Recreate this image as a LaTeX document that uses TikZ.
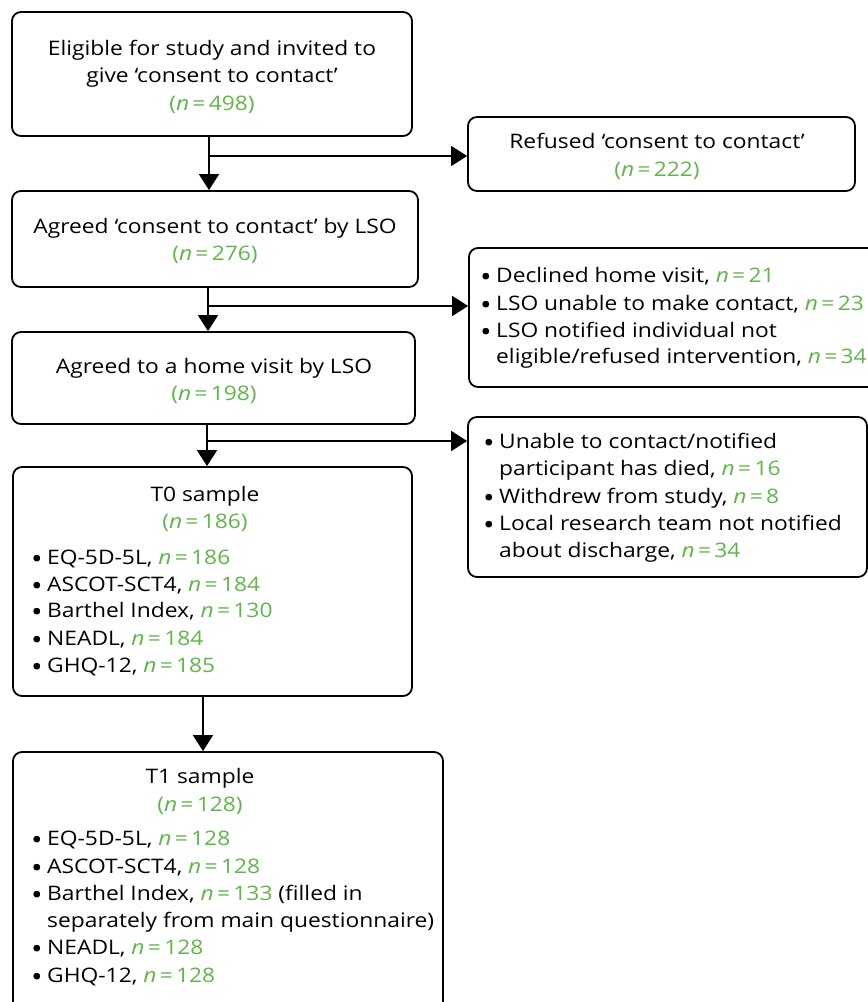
\documentclass[tikz,border=0pt]{standalone}
\usepackage{fontspec}
\setmainfont[FakeStretch=1.14]{Open Sans}
\usetikzlibrary{arrows.meta}
\definecolor{ngreen}{RGB}{96,182,72}
\newcommand\gn[1]{{\color{ngreen}\textit{n}\,=\,#1}}
\newcommand\gp[1]{{\color{ngreen}(\textit{n}\,=\,#1)}}
\newcommand\bul{\makebox[14pt][l]{\hspace*{-2pt}\raisebox{-0.21em}{\scalebox{1.35}{•}}}}
\begin{document}
\begin{tikzpicture}[x=1pt,y=-1pt,
 box/.style={draw, line width=1.8pt, rounded corners=9pt, inner sep=0pt},
 ln/.style={inner sep=0pt, anchor=base, font=\fontsize{20}{27}\selectfont},
 lnw/.style={ln, anchor=base west},
 arr/.style={line width=1.8pt, -{Triangle[width=20pt,length=16pt]}}]
\useasboundingbox (0,0) rectangle (868,1002);
\clip (0,0) rectangle (868,1002);
% boxes
\node[box, minimum width=400pt, minimum height=124pt] (b1) at (212,74) {};
\node[box, minimum width=387pt, minimum height=74pt] (r1) at (661.5,154) {};
\node[box, minimum width=406pt, minimum height=96pt] (b2) at (215,239) {};
\node[box, minimum width=416pt, minimum height=139pt] (r2) at (677,317.5) {};
\node[box, minimum width=403pt, minimum height=92pt] (b3) at (213.5,378) {};
\node[box, minimum width=399pt, minimum height=160pt] (r3) at (667.5,497) {};
\node[box, minimum width=399pt, minimum height=229pt] (b4) at (212.5,581.5) {};
\node[box, minimum width=430pt, minimum height=278pt] (b5) at (228,891) {};
% connectors
\coordinate (j1) at (209,156);
\coordinate (j2) at (208,306);
\coordinate (j3) at (207,441);
\coordinate (j4) at (203,720);
\draw[arr] (b1.south -| j1) -- (b2.north -| j1);
\draw[arr] (j1) -- (j1 -| r1.west);
\draw[arr] (b2.south -| j2) -- (b3.north -| j2);
\draw[arr] (j2) -- (j2 -| r2.west);
\draw[arr] (b3.south -| j3) -- (b4.north -| j3);
\draw[arr] (j3) -- (j3 -| r3.west);
\draw[arr] (b4.south -| j4) -- (b5.north -| j4);
% texts
\node[ln] (t11) at (212,55) {Eligible for study and invited to};
\node[ln] (t12) at (212,82) {give ‘consent to contact’};
\node[ln] (t13) at (212,110) {\gp{498}};
\node[ln] (t21) at (657,148) {Refused ‘consent to contact’};
\node[ln] (t22) at (657,176) {\gp{222}};
\node[ln] (t31) at (215,233) {Agreed ‘consent to contact’ by LSO};
\node[ln] (t32) at (215,260) {\gp{276}};
\node[lnw] (t41) at (482,282) {\bul Declined home visit, \gn{21}};
\node[lnw] (t42) at (482,310) {\bul LSO unable to make contact, \gn{23}};
\node[lnw] (t43) at (482,337) {\bul LSO notified individual not};
\node[lnw] (t44) at (496,363) {eligible/refused intervention, \gn{34}};
\node[ln] (t51) at (214,373) {Agreed to a home visit by LSO};
\node[ln] (t52) at (214,400) {\gp{198}};
\node[lnw] (t61) at (485,448) {\bul Unable to contact/notified};
\node[lnw] (t62) at (499,475) {participant has died, \gn{16}};
\node[lnw] (t63) at (485,503) {\bul Withdrew from study, \gn{8}};
\node[lnw] (t64) at (485,530) {\bul Local research team not notified};
\node[lnw] (t65) at (499,557) {about discharge, \gn{34}};
\node[ln] (t71) at (205,501) {T0 sample};
\node[ln] (t72) at (205,528) {\gp{186}};
\node[lnw] (t73) at (33,564) {\bul EQ-5D-5L, \gn{186}};
\node[lnw] (t74) at (33,591) {\bul ASCOT-SCT4, \gn{184}};
\node[lnw] (t75) at (33,617) {\bul Barthel Index, \gn{130}};
\node[lnw] (t76) at (33,645) {\bul NEADL, \gn{184}};
\node[lnw] (t77) at (33,672) {\bul GHQ-12, \gn{185}};
\node[ln] (t81) at (200,783) {T1 sample};
\node[ln] (t82) at (200,811) {\gp{128}};
\node[lnw] (t83) at (33,845) {\bul EQ-5D-5L, \gn{128}};
\node[lnw] (t84) at (33,873) {\bul ASCOT-SCT4, \gn{128}};
\node[lnw] (t85) at (33,900) {\bul Barthel Index, \gn{133} (filled in};
\node[lnw] (t86) at (47,927) {separately from main questionnaire)};
\node[lnw] (t87) at (33,954) {\bul NEADL, \gn{128}};
\node[lnw] (t88) at (33,982) {\bul GHQ-12, \gn{128}};
\end{tikzpicture}
\end{document}
